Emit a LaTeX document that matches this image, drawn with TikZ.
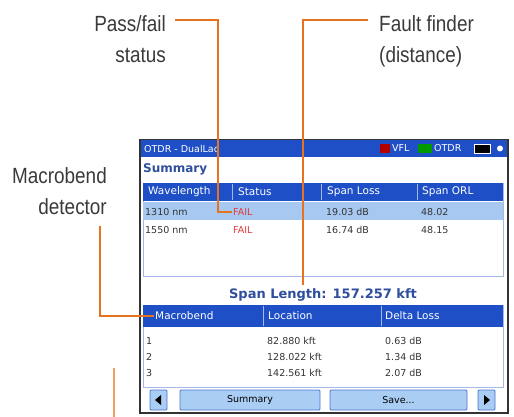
\documentclass[tikz,border=0pt]{standalone}
\usepackage{fontspec}
\setmainfont{DejaVu Sans}
\newfontfamily\lblfont[FakeStretch=0.86]{Liberation Sans}
\definecolor{lead}{HTML}{E8731E}
\definecolor{hdr}{HTML}{1F4FC6}
\definecolor{hil}{HTML}{A7C8F0}
\definecolor{btn}{HTML}{AACDF3}
\definecolor{navy}{HTML}{2F4E9E}
\definecolor{lblgray}{HTML}{3A3A3A}
\definecolor{failred}{HTML}{E23A3A}
\tikzset{
  lbl/.style={font=\lblfont\fontsize{22}{31}\selectfont, text=lblgray, inner sep=0pt},
  leader/.style={draw=lead, line width=2.4pt},
  th/.style={anchor=west, text=white, font=\fontsize{10.5}{12}\selectfont, inner sep=1pt},
  td/.style={anchor=west, text=black!80, font=\fontsize{9.5}{11}\selectfont, inner sep=1pt},
  bt/.style={draw=hdr!80, fill=btn, rounded corners=1pt, line width=0.8pt, font=\fontsize{9.5}{11}\selectfont}
}
\begin{document}
\begin{tikzpicture}[x=1pt,y=-1pt]
\useasboundingbox (0,0) rectangle (514,417);

   \node[lbl, anchor=north east, align=right] at (166,15) (pass) {Pass/fail\\status};
   \node[lbl, anchor=north west, align=left] at (379,15) (fault) {Fault finder\\(distance)};
   \node[lbl, anchor=north east, align=right] at (107,167) (bend) {Macrobend\\detector};

   \draw[line width=1.5pt, draw=black!80, fill=white] (140,140) rectangle (508,413);
   \fill[hdr] (141,140) rectangle (507,157);
   \node[td, text=white] at (143,148.5) (title) {OTDR - DualLac};
   \fill[red!70!black] (380,144) rectangle (390,153);
   \node[td, text=white] at (391,148.5) (vfl) {VFL};
   \fill[green!60!black] (418,144) rectangle (432,153);
   \node[td, text=white] at (433,148.5) (otdr) {OTDR};
   \draw[white, fill=black] (474,144) rectangle (490,153);
   \fill[white] (500,148.5) circle (3);
   \node[anchor=west, text=navy, font=\bfseries\fontsize{12}{14}\selectfont, inner sep=1pt] at (142,169) (summ) {Summary};

   \draw[hdr!40, line width=1pt] (143,183) rectangle (503,276);
   \fill[hdr] (143,183) rectangle (503,201);
   \fill[hil] (143,202) rectangle (503,220);
   \foreach \x in {232,321,417} \draw[white!60!hdr] (\x,184) -- (\x,200);
   \node[th] at (147,192) (wl) {Wavelength};
   \node[th] at (237,192) (st) {Status};
   \node[th] at (326,192) (sl) {Span Loss};
   \node[th] at (421,192) (so) {Span ORL};
   \node[td] at (144,212) {1310 nm};
   \node[td, text=failred] at (232,212) (fail) {FAIL};
   \node[td] at (325,212) {19.03 dB};
   \node[td] at (420,212) {48.02};
   \node[td] at (144,230) {1550 nm};
   \node[td, text=failred] at (232,230) (fail2) {FAIL};
   \node[td] at (325,230) {16.74 dB};
   \node[td] at (420,230) {48.15};

   \node[text=navy, font=\bfseries\fontsize{13}{15}\selectfont] at (323,295) (span) {Span Length: 157.257 kft};

   \draw[hdr!40, line width=1pt] (143,305) rectangle (503,387);
   \fill[hdr] (143,305) rectangle (503,327);
   \foreach \x in {263,381} \draw[white!60!hdr] (\x,306) -- (\x,326);
   \node[th] at (154,316) (mhdr) {Macrobend};
   \node[th] at (267,316) (loc) {Location};
   \node[th] at (384,316) (dl) {Delta Loss};
   \foreach \n/\d/\l [count=\i] in {1/82.880 kft/0.63 dB, 2/128.022 kft/1.34 dB, 3/142.561 kft/2.07 dB} {
     \node[td] at (145,325+16*\i) {\n};
     \node[td] at (266,325+16*\i) {\d};
     \node[td] at (384,325+16*\i) {\l};
   }

   \node[bt, minimum width=17pt, minimum height=20pt] at (158.5,400) (bprev) {};
   \fill (161,395) -- (161,405) -- (155,400) -- cycle;
   \node[bt, minimum width=140pt, minimum height=20pt] at (250,400) (bsum) {Summary};
   \node[bt, minimum width=137pt, minimum height=20pt] at (398.5,400) (bsave) {Save...};
   \node[bt, minimum width=17pt, minimum height=20pt] at (486.5,400) (bnext) {};
   \fill (484,395) -- (484,405) -- (490,400) -- cycle;

   \coordinate (p0) at (175,20);
   \coordinate (f0) at (368,20);
   \coordinate (b0) at (100,226);
   \coordinate (s0) at (114,368);
   \coordinate (s1) at (114,417);
   \draw[leader] (p0) -| ([xshift=-14pt]fail.west) -- (fail.west);
   \draw[leader] (f0) -| ([xshift=-20pt]span.north);
   \draw[leader] (b0) |- (mhdr.west);
   \draw[leader, line width=1.2pt, draw=lead!70] (s0) -- (s1);

\end{tikzpicture}
\end{document}
